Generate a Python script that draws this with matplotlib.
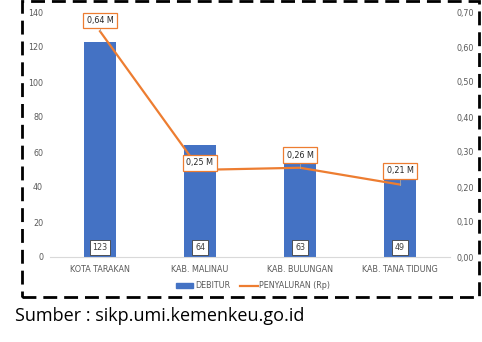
import matplotlib

matplotlib.use("Agg")
import matplotlib.pyplot as plt
from matplotlib.patches import Rectangle
from matplotlib.lines import Line2D

categories = ["KOTA TARAKAN", "KAB. MALINAU", "KAB. BULUNGAN", "KAB. TANA TIDUNG"]
debitur = [123, 64, 63, 49]
penyaluran = [0.645, 0.249, 0.255, 0.207]
penyaluran_labels = ["0,64 M", "0,25 M", "0,26 M", "0,21 M"]
left_ticks = [0, 20, 40, 60, 80, 100, 120, 140]
right_ticks = [0.0, 0.1, 0.2, 0.3, 0.4, 0.5, 0.6, 0.7]

BLUE = "#4472C4"
ORANGE = "#ED7D31"
GREY = "#595959"

W, H = 482, 342
fig = plt.figure(figsize=(W / 100, H / 100), dpi=100)
ax = fig.add_axes([50 / W, (H - 257) / H, 400 / W, 245 / H])
ax2 = ax.twinx()

x = list(range(len(categories)))
ax.bar(x, debitur, width=0.32, color=BLUE, zorder=2)
ax.set_xlim(-0.5, 3.5)
ax.set_ylim(0, 140)
ax.set_yticks(left_ticks)
ax.set_yticklabels([str(t) for t in left_ticks])
ax.set_xticks(x)
ax.set_xticklabels(categories)
ax.tick_params(length=0, labelsize=5.8, colors=GREY, pad=5)
ax.tick_params(axis="x", pad=6)
for s in ["top", "right", "left"]:
    ax.spines[s].set_visible(False)
ax.spines["bottom"].set_color("#D9D9D9")

for xi, v in zip(x, debitur):
    ax.text(xi, 5.5, str(v), ha="center", va="center", fontsize=5.8, color="#404040",
            bbox=dict(boxstyle="square,pad=0.35", fc="white", ec="#404040", lw=0.6), zorder=4)

ax2.plot(x, penyaluran, color=ORANGE, lw=1.6, zorder=3)
ax2.set_ylim(0, 0.7)
ax2.set_yticks(right_ticks)
ax2.set_yticklabels([f"{t:.2f}".replace(".", ",") for t in right_ticks])
ax2.tick_params(length=0, labelsize=5.8, colors=GREY, pad=5)
for s in ax2.spines.values():
    s.set_visible(False)

offsets = [0.031, 0.02, 0.036, 0.039]
for xi, v, lab, off in zip(x, penyaluran, penyaluran_labels, offsets):
    ax2.plot([xi, xi], [v, v + off - 0.012], color="#A6A6A6", lw=0.6, zorder=3)
    ax2.text(xi, v + off, lab, ha="center", va="center", fontsize=5.8, color="#262626",
             bbox=dict(boxstyle="square,pad=0.4", fc="white", ec=ORANGE, lw=0.9), zorder=5)

handles = [Rectangle((0, 0), 1, 1, color=BLUE), Line2D([], [], color=ORANGE, lw=1.6)]
fig.legend(handles, ["DEBITUR", "PENYALURAN (Rp)"], loc="center", ncol=2,
           bbox_to_anchor=(253 / W, (H - 286) / H), frameon=False, fontsize=5.8,
           labelcolor=GREY, handlelength=2.2, handleheight=0.5, columnspacing=1.2,
           handletextpad=0.2)

border = Rectangle((22 / W, (H - 297) / H), 457 / W, 296 / H, transform=fig.transFigure,
                   fill=False, ec="black", lw=2, ls=(0, (5, 2.5)))
fig.add_artist(border)

fig.text(15 / W, (H - 316) / H, "Sumber : sikp.umi.kemenkeu.go.id", fontsize=13,
         family="Open Sans", va="center", ha="left", color="black")

fig.savefig("out.png", dpi=100)
